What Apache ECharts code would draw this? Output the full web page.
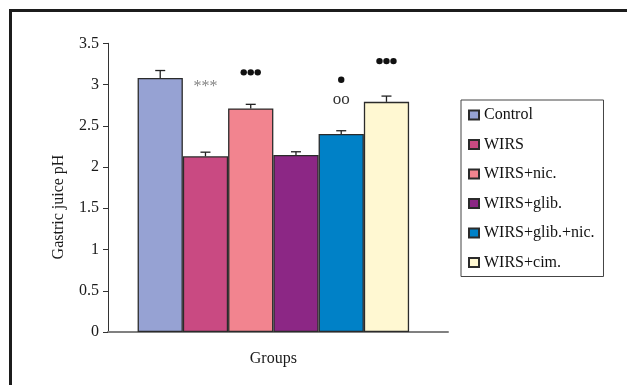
<!DOCTYPE html>
<html>
<head>
<meta charset="utf-8">
<script src="https://cdn.jsdelivr.net/npm/echarts@6/dist/echarts.min.js"></script>
<style>
html,body{margin:0;padding:0;background:#fff;}
#chart{width:627px;height:385px;}
</style>
</head>
<body>
<div id="chart"></div>
<script>
// ---- data ----
const groups = ['Control', 'WIRS', 'WIRS+nic.', 'WIRS+glib.', 'WIRS+glib.+nic.', 'WIRS+cim.'];
const meanPH = [3.08, 2.13, 2.71, 2.145, 2.40, 2.79];
const semPH = [0.09, 0.05, 0.05, 0.04, 0.04, 0.07];
const vsControlMarks = ['', '***', '', '', 'oo', ''];
const vsWirsDots = [0, 0, 3, 0, 1, 3];
const yTicks = [0, 0.5, 1, 1.5, 2, 2.5, 3, 3.5];
const xCategory = ['Groups'];

// ---- styles ----
const colors = ['#96a2d3', '#c94a82', '#f2848f', '#8c2785', '#0081c7', '#fff8d2'];
const FONT = '"Liberation Serif", "Times New Roman", serif';
const CAT_GAP = 0.179;
// pixel offsets (above error-bar cap) of the significance marks
const markOffset = [0, 69, 0, 0, 31, 0];
const dotOffset = [0, 0, 32, 0, 51, 35];

const chart = echarts.init(document.getElementById('chart'), null, {renderer: 'canvas'});

const barSeries = groups.map((g, i) => ({
  name: g,
  type: 'bar',
  xAxisIndex: 1,
  yAxisIndex: 1,
  barGap: '0%',
  barCategoryGap: (CAT_GAP * 100) + '%',
  data: [meanPH[i]],
  itemStyle: {color: colors[i], borderColor: '#2b2b2b', borderWidth: 1.3},
  emphasis: {disabled: true},
  animation: false
}));

const errData = groups.map((g, i) => [0, meanPH[i], semPH[i], i]);

const errSeries = {
  type: 'custom',
  xAxisIndex: 1,
  yAxisIndex: 1,
  z: 10,
  silent: true,
  animation: false,
  data: errData,
  renderItem: function (params, api) {
    const v = api.value(1), e = api.value(2), i = api.value(3);
    const base = api.coord([0, v]);
    const top = api.coord([0, v + e]);
    const bandW = api.size([1, 0])[0];
    const barW = bandW * (1 - CAT_GAP) / groups.length;
    const x = base[0] + (i - (groups.length - 1) / 2) * barW;
    const children = [
      {type: 'line', shape: {x1: x, y1: base[1], x2: x, y2: top[1]}, style: {stroke: '#222', lineWidth: 1.3}},
      {type: 'line', shape: {x1: x - 5, y1: top[1], x2: x + 5, y2: top[1]}, style: {stroke: '#222', lineWidth: 1.3}}
    ];
    const m = vsControlMarks[i];
    if (m) {
      const isAst = m.indexOf('*') >= 0;
      children.push({
        type: 'text',
        style: {
          text: m,
          x: x,
          y: top[1] - markOffset[i] + (isAst ? 4 : 0),
          align: 'center',
          verticalAlign: 'middle',
          font: (isAst ? '16px ' : '17px ') + FONT,
          fill: isAst ? '#858585' : '#333'
        }
      });
    }
    const n = vsWirsDots[i];
    for (let k = 0; k < n; k++) {
      children.push({
        type: 'circle',
        shape: {cx: x + (k - (n - 1) / 2) * 7, cy: top[1] - dotOffset[i], r: 3.2},
        style: {fill: '#111'}
      });
    }
    return {type: 'group', children: children};
  }
};

const option = {
  backgroundColor: '#fff',
  animation: false,
  textStyle: {fontFamily: FONT},
  grid: [
    {left: 108, top: 43.3, width: 340, height: 288.7, containLabel: false},
    {left: 108, top: 43.3, width: 330.7, height: 288.7, containLabel: false}
  ],
  xAxis: [
    {
      gridIndex: 0, type: 'category', data: xCategory,
      axisLine: {lineStyle: {color: '#808080', width: 2}},
      axisTick: {show: false}, axisLabel: {show: false}
    },
    {
      gridIndex: 1, type: 'category', data: xCategory,
      axisLine: {show: false}, axisTick: {show: false}, axisLabel: {show: false},
      name: 'Groups', nameLocation: 'middle', nameGap: 19,
      nameTextStyle: {fontFamily: FONT, fontSize: 16, color: '#1a1a1a'}
    }
  ],
  yAxis: [
    {
      gridIndex: 0, type: 'value', min: yTicks[0], max: yTicks[yTicks.length - 1], interval: 0.5,
      axisLine: {show: true, lineStyle: {color: '#333', width: 1}},
      axisTick: {show: true, length: 5, lineStyle: {color: '#333'}},
      axisLabel: {margin: 9, fontFamily: FONT, fontSize: 16, color: '#1a1a1a'},
      splitLine: {show: false}
    },
    {
      gridIndex: 1, type: 'value', min: yTicks[0], max: yTicks[yTicks.length - 1], interval: 0.5,
      show: false
    }
  ],
  legend: {
    orient: 'vertical',
    left: 461, top: 100,
    padding: [7, 9, 6, 7],
    itemGap: 13.5,
    itemWidth: 10, itemHeight: 9,
    icon: 'rect',
    borderColor: '#444', borderWidth: 1,
    backgroundColor: '#fff',
    selectedMode: false,
    textStyle: {fontFamily: FONT, fontSize: 16, color: '#111', lineHeight: 16},
    data: groups
  },
  graphic: [
    {
      type: 'rect', silent: true,
      shape: {x: 10.5, y: 10.5, width: 700, height: 500},
      style: {fill: 'none', stroke: '#1c1c1c', lineWidth: 3}
    },
    {
      type: 'text', silent: true,
      x: 59, y: 207, rotation: Math.PI / 2,
      style: {text: 'Gastric juice pH', font: '16px ' + FONT, fill: '#1a1a1a', align: 'center', verticalAlign: 'middle'}
    }
  ],
  series: barSeries.concat([errSeries])
};

chart.setOption(option);
</script>
</body>
</html>
